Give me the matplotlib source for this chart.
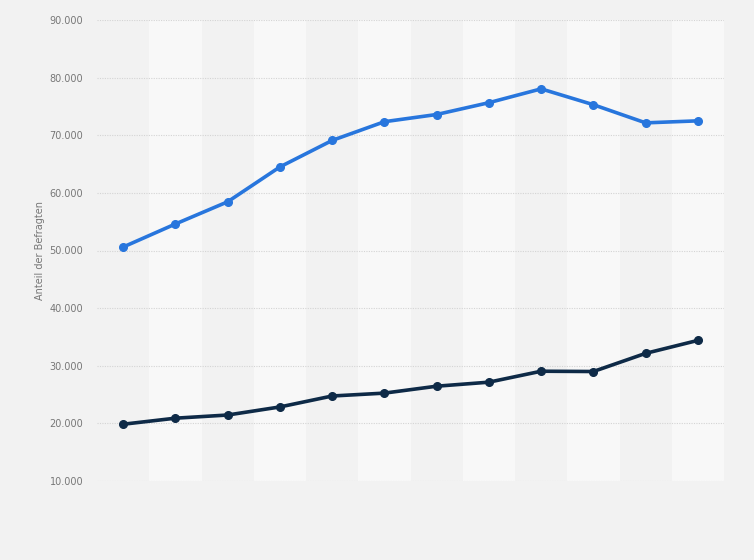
import numpy as np
import matplotlib.pyplot as plt
from matplotlib.ticker import FuncFormatter

# Werte
periods = list(range(12))
series_blue = [50600, 54600, 58450, 64500, 69100, 72350, 73600, 75650, 78050, 75300, 72150, 72500]
series_dark = [19850, 20900, 21450, 22850, 24750, 25250, 26450, 27150, 29050, 29000, 32150, 34400]
y_ticks = [10000, 20000, 30000, 40000, 50000, 60000, 70000, 80000, 90000]

bg = "#f2f2f2"
fig = plt.figure(figsize=(7.54, 5.6), dpi=100, facecolor=bg)
ax = fig.add_axes([97 / 754, 1 - 481 / 560, (724 - 97) / 754, (481 - 20) / 560])
ax.set_facecolor(bg)

# abwechselnde Spaltenbänder
for i in periods:
    if i % 2 == 1:
        ax.axvspan(i - 0.5, i + 0.5, color="#f8f8f8", zorder=0, lw=0)

ax.set_xlim(-0.5, len(periods) - 0.5)
ax.set_ylim(10000, 90000)
ax.set_yticks(y_ticks)
ax.yaxis.set_major_formatter(FuncFormatter(lambda v, p: f"{int(v):,}".replace(",", ".")))
ax.set_xticks([])
ax.grid(axis="y", color="#d4d4d4", linestyle=(0, (1, 1.2)), linewidth=0.8, zorder=1)
ax.tick_params(axis="y", length=0, labelsize=7, labelcolor="#777777", pad=10)
for s in ax.spines.values():
    s.set_visible(False)

ax.plot(periods, series_blue, color="#2876dd", lw=2.6, marker="o", ms=5.5, zorder=3,
        solid_joinstyle="round")
ax.plot(periods, series_dark, color="#0e2a47", lw=2.6, marker="o", ms=5.5, zorder=3,
        solid_joinstyle="round")

ax.set_ylabel("Anteil der Befragten", fontsize=7, color="#777777", labelpad=3)

plt.savefig("out.png", dpi=100, facecolor=bg)
